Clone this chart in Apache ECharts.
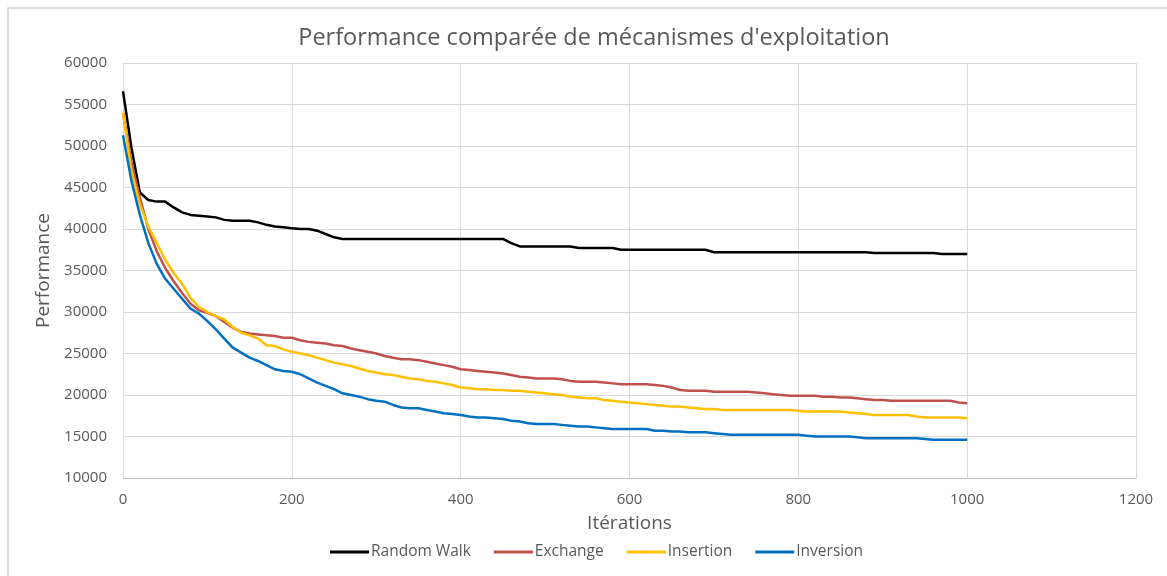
<!DOCTYPE html>
<html>
<head>
<meta charset="utf-8">
<script src="https://cdn.jsdelivr.net/npm/echarts@6/dist/echarts.min.js"></script>
<style>
html,body{margin:0;padding:0;background:#fff;}
#chart{width:1167px;height:576px;}
</style>
</head>
<body>
<div id="chart"></div>
<script>
const titleText = "Performance comparée de mécanismes d'exploitation";
const xAxisName = "Itérations";
const yAxisName = "Performance";
const seriesNames = ["Random Walk", "Exchange", "Insertion", "Inversion"];
const iterations = [];
for (let i = 0; i <= 1000; i += 10) iterations.push(i);

const randomWalk = [56600,49800,44400,43500,43300,43300,42600,42000,41700,41600,
41500,41400,41100,41000,41000,41000,40800,40500,40300,40200,
40100,40000,40000,39800,39400,39000,38800,38800,38800,38800,
38800,38800,38800,38800,38800,38800,38800,38800,38800,38800,
38800,38800,38800,38800,38800,38800,38300,37900,37900,37900,
37900,37900,37900,37900,37700,37700,37700,37700,37700,37500,
37500,37500,37500,37500,37500,37500,37500,37500,37500,37500,
37200,37200,37200,37200,37200,37200,37200,37200,37200,37200,
37200,37200,37200,37200,37200,37200,37200,37200,37200,37100,
37100,37100,37100,37100,37100,37100,37100,37000,37000,37000,37000];

const exchange = [54000,48000,43800,40000,37300,35300,33700,32300,31000,30200,
29900,29500,28800,28100,27600,27400,27300,27200,27100,26900,
26900,26600,26400,26300,26200,26000,25900,25600,25400,25200,
25000,24700,24500,24300,24300,24200,24000,23800,23600,23400,
23100,23000,22900,22800,22700,22600,22400,22200,22100,22000,
22000,22000,21900,21700,21600,21600,21600,21500,21400,21300,
21300,21300,21300,21200,21100,20900,20600,20500,20500,20500,
20400,20400,20400,20400,20400,20300,20200,20100,20000,19900,
19900,19900,19900,19800,19800,19700,19700,19600,19500,19400,
19400,19300,19300,19300,19300,19300,19300,19300,19300,19100,19000];

const insertion = [54000,47000,43000,40300,38300,36300,34700,33400,31700,30600,
30000,29500,29100,28200,27500,27200,26800,26000,25900,25500,
25200,25000,24800,24500,24200,23900,23700,23500,23200,22900,
22700,22500,22400,22200,22000,21900,21700,21600,21400,21200,
20900,20800,20700,20700,20600,20600,20500,20500,20400,20300,
20200,20100,20000,19800,19700,19600,19600,19400,19300,19200,
19100,19000,18900,18800,18700,18600,18600,18500,18400,18300,
18300,18200,18200,18200,18200,18200,18200,18200,18200,18200,
18100,18000,18000,18000,18000,18000,17900,17800,17700,17600,
17600,17600,17600,17600,17400,17300,17300,17300,17300,17300,17200];

const inversion = [51300,45800,41700,38300,35800,34000,32800,31600,30400,29800,
28900,27900,26800,25700,25100,24500,24100,23600,23100,22900,
22800,22500,22000,21500,21100,20700,20200,20000,19800,19500,
19300,19200,18800,18500,18400,18400,18200,18000,17800,17700,
17600,17400,17300,17300,17200,17100,16900,16800,16600,16500,
16500,16500,16400,16300,16200,16200,16100,16000,15900,15900,
15900,15900,15900,15700,15700,15600,15600,15500,15500,15500,
15400,15300,15200,15200,15200,15200,15200,15200,15200,15200,
15200,15100,15000,15000,15000,15000,15000,14900,14800,14800,
14800,14800,14800,14800,14800,14700,14600,14600,14600,14600,14600];

const seriesData = [randomWalk, exchange, insertion, inversion];
const colors = ["#000000", "#C0504D", "#FFC000", "#0070C0"];

const FONT = "Open Sans";
const chart = echarts.init(document.getElementById('chart'), null, {renderer: 'canvas'});
chart.setOption({
  animation: false,
  backgroundColor: '#ffffff',
  color: colors,
  title: {
    text: titleText,
    left: 589, textAlign: 'center',
    top: 21,
    textStyle: {fontFamily: FONT, fontSize: 23.5, fontWeight: 'normal', color: '#595959'}
  },
  legend: {
    bottom: 11,
    left: 325,
    itemWidth: 39,
    itemHeight: 3,
    itemGap: 23,
    icon: 'rect',
    data: seriesNames,
    textStyle: {fontFamily: FONT, fontSize: 15.5, color: '#595959', padding: [0,0,0,-3]}
  },
  grid: {left: 123, right: 31, top: 63, bottom: 98, containLabel: false},
  xAxis: {
    type: 'value', min: 0, max: 1200, interval: 200,
    name: xAxisName, nameLocation: 'middle', nameGap: 36,
    nameTextStyle: {fontFamily: FONT, fontSize: 19, color: '#595959'},
    axisLine: {show: true, lineStyle: {color: '#bfbfbf', width: 1}},
    axisTick: {show: false},
    axisLabel: {fontFamily: FONT, fontSize: 15, color: '#595959', margin: 14,
      formatter: v => String(v)},
    splitLine: {show: true, lineStyle: {color: '#d9d9d9', width: 1}}
  },
  yAxis: {
    type: 'value', min: 10000, max: 60000, interval: 5000,
    name: yAxisName, nameLocation: 'middle', nameGap: 65, nameRotate: 90,
    nameTextStyle: {fontFamily: FONT, fontSize: 19, color: '#595959'},
    axisLine: {show: false},
    axisTick: {show: false},
    axisLabel: {fontFamily: FONT, fontSize: 15, color: '#595959', margin: 16,
      formatter: v => String(v)},
    splitLine: {show: true, lineStyle: {color: '#d9d9d9', width: 1}}
  },
  graphic: [{
    type: 'rect', silent: true, z: -10,
    shape: {x: 8, y: 8, width: 1200, height: 620},
    style: {fill: 'none', stroke: '#d0d0d0', lineWidth: 1.5}
  }],
  series: seriesNames.map((n, k) => ({
    name: n,
    type: 'line',
    data: iterations.map((x, i) => [x, seriesData[k][i]]),
    showSymbol: false,
    symbol: 'none',
    smooth: false,
    lineStyle: {width: 2.5, color: colors[k]},
    itemStyle: {color: colors[k]},
    z: 2 + k
  }))
});
</script>
</body>
</html>
